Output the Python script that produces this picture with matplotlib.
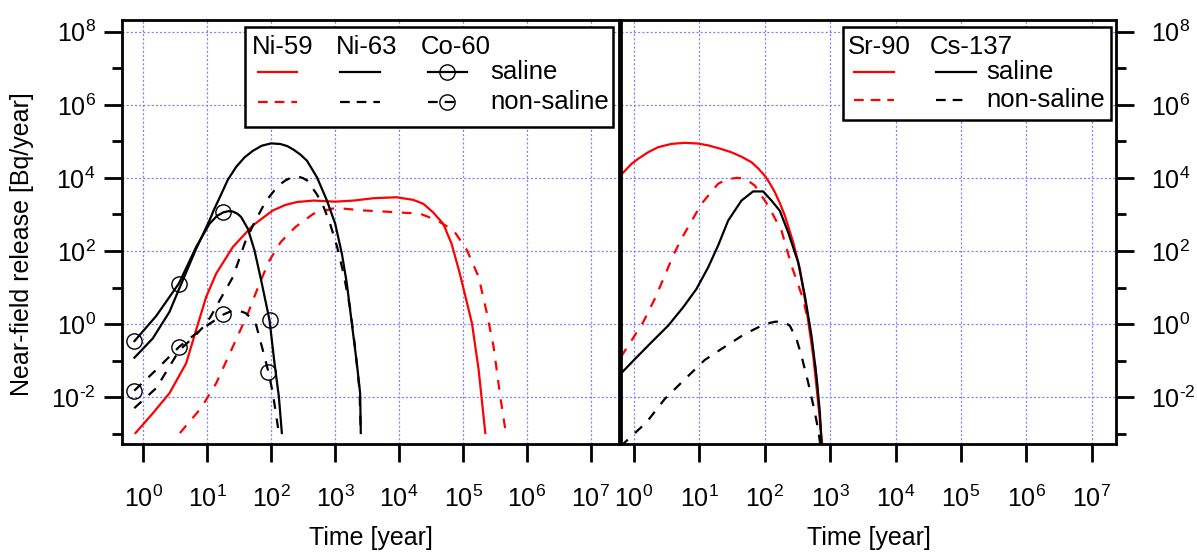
import numpy as np
import matplotlib
matplotlib.use('Agg')
import matplotlib.pyplot as plt
from matplotlib.lines import Line2D
from matplotlib.patches import Rectangle
from matplotlib.ticker import FixedLocator, FuncFormatter, NullLocator, NullFormatter

plt.rcParams['font.family'] = ['Liberation Sans', 'DejaVu Sans']
plt.rcParams['mathtext.fontset'] = 'custom'
plt.rcParams['mathtext.rm'] = 'Liberation Sans'
plt.rcParams['mathtext.it'] = 'Liberation Sans:italic'
plt.rcParams['mathtext.bf'] = 'Liberation Sans:bold'
plt.rcParams['lines.scale_dashes'] = False

# ---------------- data (log10 of time [year], log10 of release [Bq/year]) ----------------
# Left panel: Ni-59, Ni-63, Co-60
ni59_sal_lt = [-0.125, 0.146, 0.407, 0.668, 0.824, 0.981, 1.137, 1.398, 1.711, 2.024, 2.22, 2.40, 2.66,
               3.0, 3.29, 3.6, 3.96, 4.22, 4.38, 4.53, 4.69, 4.82, 4.95, 5.14, 5.244, 5.348]
ni59_sal_ly = [-2.98, -2.44, -1.89, -1.07, -0.16, 0.745, 1.38, 2.11, 2.7, 3.11, 3.26, 3.34, 3.38,
               3.35, 3.38, 3.445, 3.47, 3.4, 3.29, 3.06, 2.745, 2.2, 1.38, 0.018, -1.25, -2.98]

ni59_non_lt = [0.57, 0.9, 1.137, 1.398, 1.633, 1.815, 1.972, 2.15, 2.38, 2.66, 3.0, 3.44, 3.96,
               4.33, 4.59, 4.854, 5.062, 5.244, 5.374, 5.478, 5.582, 5.67]
ni59_non_ly = [-2.98, -2.3, -1.62, -0.62, 0.29, 1.11, 1.745, 2.25, 2.66, 3.02, 3.18, 3.11, 3.06,
               3.02, 2.84, 2.56, 2.02, 1.29, 0.29, -0.62, -1.98, -2.98]

ni63_sal_lt = [-0.141, 0.146, 0.407, 0.553, 0.824, 1.033, 1.10, 1.189, 1.32, 1.45, 1.58, 1.711,
               1.85, 1.998, 2.142, 2.25, 2.35, 2.454, 2.558, 2.714, 2.87, 3.0, 3.104, 3.182, 3.26,
               3.338, 3.39, 3.40]
ni63_sal_ly = [-0.918, -0.39, 0.336, 0.945, 2.06, 2.836, 3.12, 3.45, 3.95, 4.30, 4.56, 4.74,
               4.88, 4.945, 4.927, 4.87, 4.77, 4.64, 4.47, 4.018, 3.382, 2.745, 1.927, 1.109, 0.018,
               -1.073, -1.89, -2.98]

ni63_non_lt = [-0.144, 0.2, 0.56, 0.8, 0.95, 1.05, 1.15, 1.4, 1.6, 1.76, 1.92, 2.05, 2.15, 2.22,
               2.3, 2.38, 2.45, 2.5, 2.56, 2.71, 2.82, 2.92, 3.03, 3.13, 3.23, 3.31, 3.38, 3.40]
ni63_non_ly = [-2.3, -1.75, -0.72, -0.33, -0.05, 0.2, 0.52, 1.29, 2.29, 2.86, 3.38, 3.66, 3.84,
               3.93, 4.0, 4.03, 4.02, 3.99, 3.93, 3.56, 3.2, 2.745, 2.11, 1.38, 0.47, -0.62, -1.8, -2.98]

co60_sal_lt = [-0.141, 0.198, 0.553, 0.824, 1.033, 1.15, 1.252, 1.33, 1.398, 1.47, 1.528, 1.633,
               1.737, 1.841, 1.972, 2.05, 2.118, 2.165]
co60_sal_ly = [-0.464, 0.22, 1.109, 2.109, 2.745, 2.96, 3.06, 3.09, 3.08, 3.02, 2.93, 2.609,
               2.018, 1.2, 0.109, -1.07, -1.98, -2.98]
co60_sal_marks = [0, 2, 6, 14]

co60_non_lt = [-0.144, 0.2, 0.559, 0.9, 1.252, 1.38, 1.476, 1.6, 1.685, 1.763, 1.894, 1.956, 2.024,
               2.102, 2.118]
co60_non_ly = [-1.82, -1.25, -0.62, -0.15, 0.264, 0.36, 0.38, 0.3, 0.155, -0.027, -0.89, -1.318,
               -1.89, -2.8, -2.98]
co60_non_marks = [0, 2, 4, 11]

# Right panel: Sr-90, Cs-137
sr90_sal_lt = [-0.2, -0.041, 0.061, 0.214, 0.367, 0.571, 0.776, 0.98, 1.133, 1.337, 1.49, 1.643,
               1.796, 1.898, 2.0, 2.077, 2.153, 2.23, 2.306, 2.434, 2.536, 2.638, 2.74, 2.816, 2.878]
sr90_sal_ly = [4.08, 4.38, 4.52, 4.70, 4.84, 4.93, 4.96, 4.94, 4.89, 4.79, 4.70, 4.58,
               4.43, 4.26, 4.06, 3.85, 3.61, 3.31, 2.97, 2.24, 1.51, 0.41, -0.87, -2.15, -3.29]

sr90_non_lt = [-0.2, 0.138, 0.316, 0.469, 0.597, 0.724, 1.031, 1.286, 1.42, 1.566, 1.694, 1.847,
               2.051, 2.255, 2.408, 2.587, 2.689, 2.765, 2.816, 2.867]
sr90_non_ly = [-0.9, 0.046, 0.685, 1.32, 1.87, 2.33, 3.29, 3.84, 3.96, 4.0, 3.99, 3.79, 3.24,
               2.56, 1.6, 0.68, -0.14, -1.05, -1.96, -3.24]

cs137_sal_lt = [-0.2, 0.061, 0.265, 0.52, 0.75, 0.954, 1.133, 1.286, 1.439, 1.643, 1.821, 1.974,
                2.102, 2.23, 2.357, 2.51, 2.612, 2.714, 2.79, 2.842, 2.867]
cs137_sal_ly = [-1.35, -0.87, -0.50, -0.046, 0.457, 0.96, 1.55, 2.15, 2.83, 3.38, 3.63, 3.63,
                3.38, 3.1, 2.51, 1.69, 0.78, -0.32, -1.42, -2.42, -3.29]

cs137_non_lt = [-0.2, -0.143, 0.189, 0.469, 0.776, 1.082, 1.388, 1.694, 2.0, 2.153, 2.28, 2.383,
                2.485, 2.561, 2.663, 2.755, 2.816, 2.847]
cs137_non_ly = [-3.35, -3.24, -2.69, -2.05, -1.51, -0.98, -0.62, -0.27, 0.0, 0.064, 0.073, -0.046,
                -0.41, -0.87, -1.6, -2.33, -2.88, -3.29]

x_tick_exps = [0, 1, 2, 3, 4, 5, 6, 7]
y_major_exps = [-2, 0, 2, 4, 6, 8]
y_minor_exps = [-3, -1, 1, 3, 5, 7]

ylabel = 'Near-field release [Bq/year]'
xlabel = 'Time [year]'


def p10(a):
    return 10.0 ** np.asarray(a, dtype=float)


def pow_label(v, pos):
    e = int(round(np.log10(v)))
    if e < 0:
        return r'$10^{\text{-%d}}$' % abs(e)
    return r'$10^{%d}$' % e


# ---------------- figure ----------------
W, H = 1197, 556
fig = plt.figure(figsize=(W / 100, H / 100), dpi=100)


def fx(px):
    return px / W


def fy(py):
    return 1 - py / H


axL = fig.add_axes([fx(122), fy(444), fx(619) - fx(122), fy(20) - fy(444)])
axR = fig.add_axes([fx(621), fy(444), fx(1116) - fx(621), fy(20) - fy(444)])

RED = '#ff0000'
DASH = (0, (7, 7))
LW = 1.6

grid_kw = dict(color='#8080ff', linestyle=(0, (1.5, 1.5)), linewidth=0.9)
fmt = FuncFormatter(pow_label)

for ax in (axL, axR):
    ax.set_xscale('log')
    ax.set_yscale('log')
    ax.set_ylim(10 ** -3.28, 10 ** 8.32)
    ax.xaxis.set_major_locator(FixedLocator(p10(x_tick_exps)))
    ax.xaxis.set_minor_locator(NullLocator())
    ax.yaxis.set_major_locator(FixedLocator(p10(y_major_exps)))
    ax.yaxis.set_minor_locator(FixedLocator(p10(y_minor_exps)))
    ax.xaxis.set_major_formatter(fmt)
    ax.yaxis.set_major_formatter(fmt)
    ax.xaxis.set_minor_formatter(NullFormatter())
    ax.yaxis.set_minor_formatter(NullFormatter())
    ax.tick_params(axis='both', which='major', direction='out', length=13, width=2,
                   labelsize=18)
    ax.tick_params(axis='y', which='minor', direction='out', length=7, width=2)
    ax.tick_params(axis='x', which='major', pad=17)
    ax.grid(True, which='major', **grid_kw)
    ax.set_axisbelow(True)
    for s in ax.spines.values():
        s.set_linewidth(2)

axL.set_xlim(10 ** -0.336, 10 ** 7.44)
axR.set_xlim(10 ** -0.199, 10 ** 7.37)
axL.tick_params(axis='y', which='both', left=True, right=False, labelleft=True, pad=6)
axR.tick_params(axis='y', which='both', left=False, right=True, labelleft=False,
                labelright=True, pad=12)

# left panel curves
axL.plot(p10(ni59_sal_lt), p10(ni59_sal_ly), color=RED, lw=LW)
axL.plot(p10(ni59_non_lt), p10(ni59_non_ly), color=RED, lw=LW, linestyle=DASH)
axL.plot(p10(ni63_sal_lt), p10(ni63_sal_ly), color='black', lw=LW)
axL.plot(p10(ni63_non_lt), p10(ni63_non_ly), color='black', lw=LW, linestyle=DASH)
axL.plot(p10(co60_sal_lt), p10(co60_sal_ly), color='black', lw=LW,
         marker='o', markevery=co60_sal_marks, markersize=11, mfc='none', mec='black', mew=1.0)
axL.plot(p10(co60_non_lt), p10(co60_non_ly), color='black', lw=LW, linestyle=DASH,
         marker='o', markevery=co60_non_marks, markersize=11, mfc='none', mec='black', mew=1.0)

# right panel curves
axR.plot(p10(sr90_sal_lt), p10(sr90_sal_ly), color=RED, lw=LW)
axR.plot(p10(sr90_non_lt), p10(sr90_non_ly), color=RED, lw=LW, linestyle=DASH)
axR.plot(p10(cs137_sal_lt), p10(cs137_sal_ly), color='black', lw=LW)
axR.plot(p10(cs137_non_lt), p10(cs137_non_ly), color='black', lw=LW, linestyle=DASH)

# axis labels
fig.text(fx(22), fy(244), ylabel, rotation=90, ha='center', va='center', fontsize=18)
fig.text(fx(371), fy(538), xlabel, ha='center', va='center', fontsize=18)
fig.text(fx(869), fy(538), xlabel, ha='center', va='center', fontsize=18)

# ---------------- custom legends ----------------
LEG_FS = 18.5


def box(x0, y0, x1, y1):
    fig.add_artist(Rectangle((fx(x0), fy(y1)), fx(x1) - fx(x0), fy(y0) - fy(y1),
                             facecolor='white', edgecolor='black', lw=1.8, zorder=5))


def seg(x0, x1, y, color, ls='-', marker=False, mx=None):
    fig.add_artist(Line2D([fx(x0), fx(x1)], [fy(y), fy(y)], color=color, lw=LW,
                          linestyle=ls, zorder=6))
    if marker:
        fig.add_artist(Line2D([fx(mx)], [fy(y)], marker='o', markersize=11, mfc='none',
                              mec='black', mew=1.0, linestyle='none', zorder=7))


def txt(x, y, s):
    fig.text(fx(x), fy(y), s, ha='left', va='center', fontsize=LEG_FS, zorder=8)


leg_left_headers = ['Ni-59', 'Ni-63', 'Co-60']
leg_right_headers = ['Sr-90', 'Cs-137']
leg_rows = ['saline', 'non-saline']

box(245, 27, 613, 127)
for h, x in zip(leg_left_headers, [252, 336, 421]):
    txt(x, 47, h)
seg(258, 297, 72, RED)
seg(340, 380, 72, 'black')
seg(428, 467, 72, 'black', marker=True, mx=447)
seg(258, 297, 102, RED, ls=(0, (7, 5)))
seg(340, 380, 102, 'black', ls=(0, (7, 5)))
seg(428, 455, 102, 'black', ls=(0, (7, 5)), marker=True, mx=447)
txt(490, 72, leg_rows[0])
txt(490, 102, leg_rows[1])

box(843, 27, 1111, 120)
for h, x in zip(leg_right_headers, [848, 930]):
    txt(x, 47, h)
seg(854, 894, 72, RED)
seg(936, 976, 72, 'black')
seg(854, 894, 100, RED, ls=(0, (7, 5)))
seg(936, 966, 100, 'black', ls=(0, (7, 5)))
txt(986, 72, leg_rows[0])
txt(986, 100, leg_rows[1])

fig.savefig('out.png', dpi=100)
